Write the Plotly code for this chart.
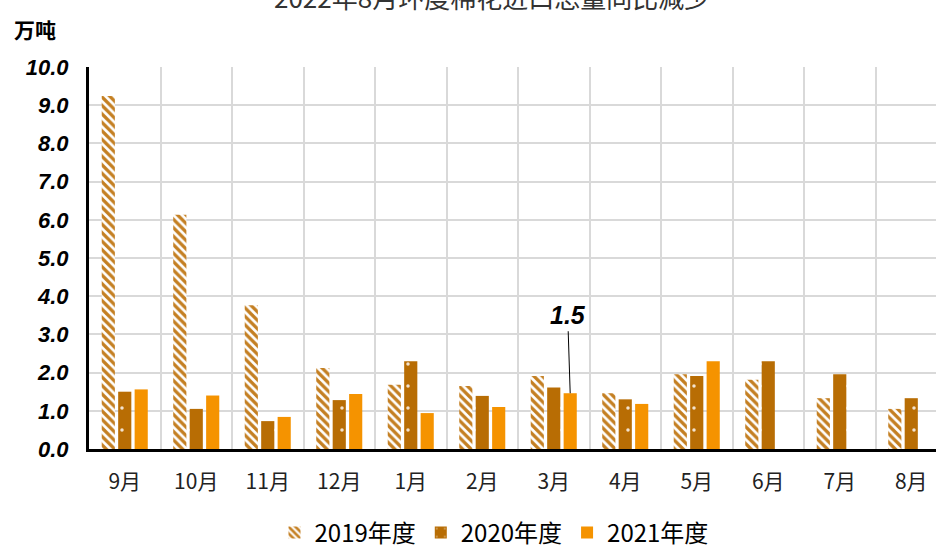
import plotly.graph_objects as go

months = ["9月", "10月", "11月", "12月", "1月", "2月", "3月", "4月", "5月", "6月", "7月", "8月"]
y2019 = [9.24, 6.13, 3.76, 2.12, 1.68, 1.65, 1.91, 1.46, 1.96, 1.81, 1.33, 1.05]
y2020 = [1.50, 1.05, 0.73, 1.28, 2.30, 1.39, 1.61, 1.30, 1.91, 2.30, 1.96, 1.33]
y2021 = [1.56, 1.40, 0.84, 1.44, 0.94, 1.10, 1.46, 1.18, 2.30, None, None, None]
series_names = ["2019年度", "2020年度", "2021年度"]
y_ticks = [0, 1, 2, 3, 4, 5, 6, 7, 8, 9, 10]
title_text = "2022年8月环度棉花进口总量同比减少"
unit_text = "万吨"
label_month = "3月"
label_text = "1.5"

C19 = "#C47F22"
C20 = "#B86D04"
C21 = "#F59300"

W, H = 936, 548
ML, MR, MT, MB = 89, 0, 67, 99
plot_h = H - MT - MB
plot_w = W - ML - MR

fig = go.Figure()
fig.add_trace(go.Bar(
    x=months, y=y2019, name=series_names[0],
    marker=dict(color=C19, line=dict(width=0),
                pattern=dict(shape="\\", fgcolor=C19, bgcolor="white", size=6, solidity=0.55,
                             fillmode="replace", fgopacity=1)),
))
fig.add_trace(go.Bar(
    x=months, y=y2020, name=series_names[1],
    marker=dict(color=C20, line=dict(width=0),
                pattern=dict(shape=".", fgcolor="#F3E3CF", bgcolor=C20, size=22, solidity=0.02,
                             fillmode="replace", fgopacity=1)),
))
fig.add_trace(go.Bar(
    x=months, y=y2021, name=series_names[2],
    marker=dict(color=C21, line=dict(width=0)),
))

# label for the 2021 bar of 3月
idx = months.index(label_month)
bargap = 0.31
bargroupgap = 0.2
slot = (1 - bargap) / 3
x_lab = idx + slot  # third bar of the group
fig.add_annotation(
    x=x_lab, y=y2021[idx], xref="x", yref="y",
    text="<b><i>" + label_text + "</i></b>",
    showarrow=True, arrowhead=0, arrowwidth=1, arrowcolor="black",
    ax=-2, ay=-62, standoff=0,
    font=dict(family="Liberation Sans, Arial", size=25, color="black"),
    yanchor="bottom",
)

# unit label
fig.add_annotation(
    x=(35 - ML) / plot_w, y=(H - MB - 29) / plot_h, xref="paper", yref="paper",
    text="<b>" + unit_text + "</b>", showarrow=False, xanchor="center", yanchor="middle",
    font=dict(family="Noto Sans CJK SC", size=21, color="black"),
)

# title (partly above the page edge, as in the reference)
fig.add_annotation(
    x=(492 - ML) / plot_w, y=(H - MB + 3) / plot_h, xref="paper", yref="paper",
    text=title_text, showarrow=False, xanchor="center", yanchor="middle",
    font=dict(family="Noto Sans CJK SC", size=26, color="#333333"),
)

fig.update_layout(
    width=W, height=H,
    margin=dict(l=ML, r=MR, t=MT, b=MB, autoexpand=False),
    paper_bgcolor="white", plot_bgcolor="white",
    barmode="group", bargap=bargap, bargroupgap=bargroupgap,
    legend=dict(orientation="h", x=(494 - ML) / plot_w, xanchor="center",
                y=-(533 - (H - MB)) / plot_h, yanchor="middle",
                font=dict(family="Noto Sans CJK SC", size=24, color="black"),
                itemwidth=30, traceorder="normal"),
    showlegend=True,
)

fig.update_xaxes(
    type="category", range=[-0.5, -0.5 + plot_w / 71.5],
    tickson="boundaries", showgrid=True, gridcolor="#D9D9D9", gridwidth=2,
    showline=True, linecolor="black", linewidth=3,
    ticks="", tickfont=dict(family="Noto Sans CJK SC", size=21, color="#222222"),
    ticklabelstandoff=12, automargin=False,
)
fig.update_yaxes(
    range=[0, 10], tickvals=y_ticks, tickformat=".1f",
    showgrid=True, gridcolor="#D9D9D9", gridwidth=2, zeroline=False,
    showline=True, linecolor="black", linewidth=3,
    ticks="", tickfont=dict(family="Liberation Sans, Arial", size=22, color="black", weight="bold", style="italic"),
    ticklabelstandoff=13, automargin=False,
)

fig.write_html("out.html", config={"displayModeBar": False},
               post_script="document.body.style.margin='0';document.body.style.overflow='hidden';")
